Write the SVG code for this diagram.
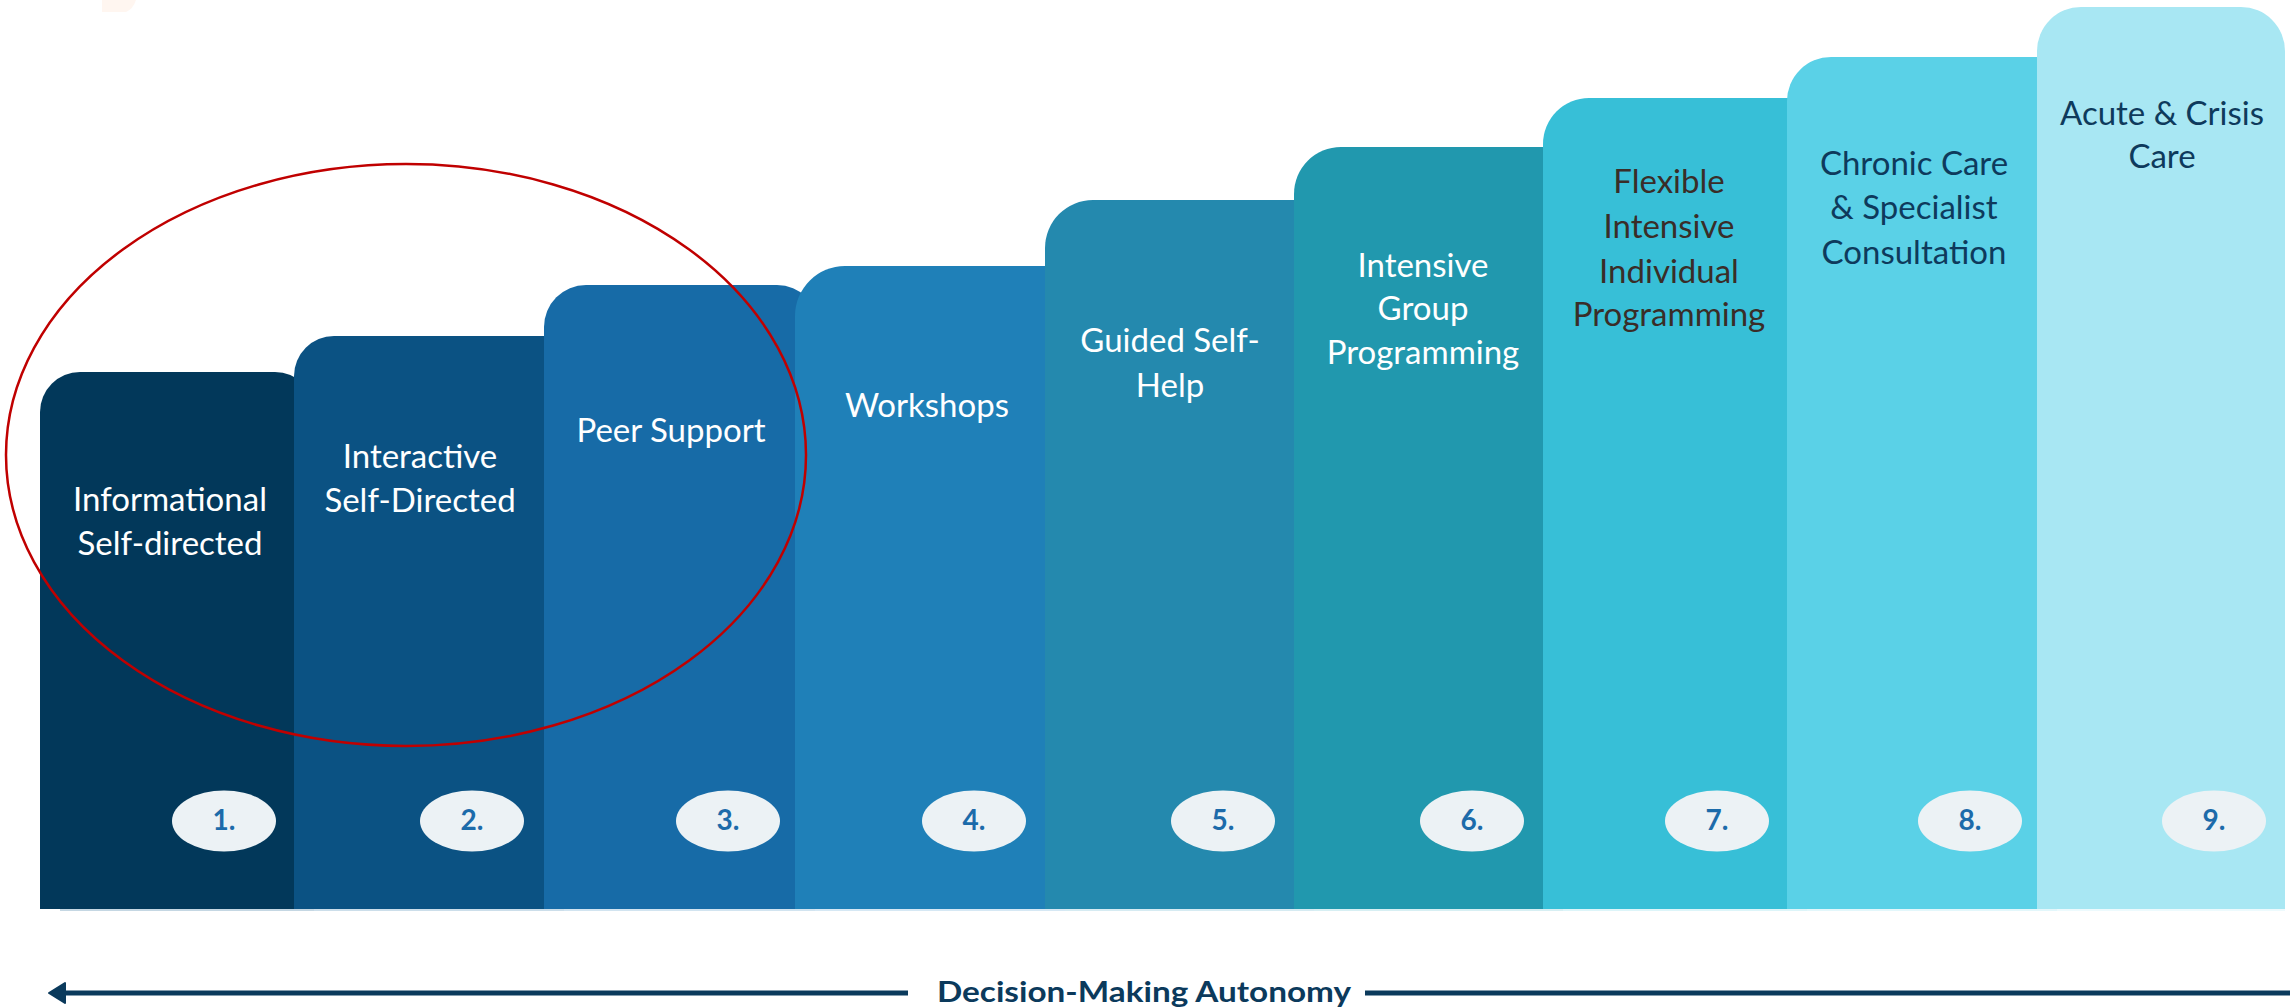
<svg xmlns="http://www.w3.org/2000/svg" width="2293" height="1008" viewBox="0 0 2293 1008">
  <defs>
    <style>
      .label { font-family: Lato, "Liberation Sans", sans-serif; font-size: 33px; text-anchor: middle; }
      .light { fill: #ffffff; }
      .brown { fill: #3a2d28; }
      .navy { fill: #0e3a5c; }
      .badge { fill: #ecf2f5; }
      .num { font-family: Lato, "Liberation Sans", sans-serif; font-size: 28px; font-weight: 700; fill: #1c6baa; text-anchor: middle; }
      .axis-line { stroke: #0b3a5c; stroke-width: 5; fill: none; }
      .axis-text { font-family: Lato, "Liberation Sans", sans-serif; font-size: 29px; font-weight: 700; fill: #0b3a5c; }
      .base { opacity: 0.45; }
    </style>
  </defs>

  <rect width="2293" height="1008" fill="#ffffff"/>

  <!-- faint shape at the top-left edge -->
  <path d="M102,0 H136 Q133,9 126,12 H102 Z" fill="#fff6f0"/>

  <!-- each column runs on under the next one, which hides most of its right corner -->

  <!-- step 1 -->
  <g id="step-1">
    <path d="M40,909 V412 A40,40 0 0 1 80,372 H275 A40,40 0 0 1 315,412 V909 Z" fill="#02385a"/>
    <rect class="base" x="60" y="909" width="254" height="2" fill="#7fa6c2"/>
    <text class="label light" x="170" y="511">Informational</text>
    <text class="label light" x="170" y="555">Self-directed</text>
    <ellipse class="badge" cx="224" cy="821" rx="52" ry="30.5"/>
    <text class="num" x="224" y="830">1.</text>
  </g>

  <!-- step 2 -->
  <g id="step-2">
    <path d="M294,909 V376 A40,40 0 0 1 334,336 H544 A40,40 0 0 1 584,376 V909 Z" fill="#0b5283"/>
    <rect class="base" x="314" y="909" width="250" height="2" fill="#8fb5d0"/>
    <text class="label light" x="420" y="468">Interactive</text>
    <text class="label light" x="420" y="512">Self-Directed</text>
    <ellipse class="badge" cx="472" cy="821" rx="52" ry="30.5"/>
    <text class="num" x="472" y="830">2.</text>
  </g>

  <!-- step 3 -->
  <g id="step-3">
    <path d="M544,909 V327 A42,42 0 0 1 586,285 H777 A42,42 0 0 1 819,327 V909 Z" fill="#176ba7"/>
    <rect class="base" x="564" y="909" width="251" height="2" fill="#9cc3de"/>
    <text class="label light" x="671" y="442">Peer Support</text>
    <ellipse class="badge" cx="728" cy="821" rx="52" ry="30.5"/>
    <text class="num" x="728" y="830">3.</text>
  </g>

  <!-- step 4 -->
  <g id="step-4">
    <path d="M795,909 V316 A50,50 0 0 1 845,266 H1045 A50,50 0 0 1 1095,316 V909 Z" fill="#1f80b8"/>
    <rect class="base" x="815" y="909" width="250" height="2" fill="#a3cde6"/>
    <text class="label light" x="927" y="417">Workshops</text>
    <ellipse class="badge" cx="974" cy="821" rx="52" ry="30.5"/>
    <text class="num" x="974" y="830">4.</text>
  </g>

  <!-- step 5 -->
  <g id="step-5">
    <path d="M1045,909 V248 A48,48 0 0 1 1093,200 H1294 A48,48 0 0 1 1342,248 V909 Z" fill="#2489ae"/>
    <rect class="base" x="1065" y="909" width="249" height="2" fill="#a5d2e2"/>
    <text class="label light" x="1170" y="352">Guided Self-</text>
    <text class="label light" x="1170" y="397">Help</text>
    <ellipse class="badge" cx="1223" cy="821" rx="52" ry="30.5"/>
    <text class="num" x="1223" y="830">5.</text>
  </g>

  <!-- step 6 -->
  <g id="step-6">
    <path d="M1294,909 V194 A47,47 0 0 1 1341,147 H1543 A47,47 0 0 1 1590,194 V909 Z" fill="#2198ae"/>
    <rect class="base" x="1314" y="909" width="249" height="2" fill="#a6dbe4"/>
    <text class="label light" x="1423" y="277">Intensive</text>
    <text class="label light" x="1423" y="320">Group</text>
    <text class="label light" x="1423" y="364">Programming</text>
    <ellipse class="badge" cx="1472" cy="821" rx="52" ry="30.5"/>
    <text class="num" x="1472" y="830">6.</text>
  </g>

  <!-- step 7 -->
  <g id="step-7">
    <path d="M1543,909 V144 A46,46 0 0 1 1589,98 H1787 A46,46 0 0 1 1833,144 V909 Z" fill="#37bfd7"/>
    <rect class="base" x="1563" y="909" width="244" height="2" fill="#b3e8f1"/>
    <text class="label brown" x="1669" y="193">Flexible</text>
    <text class="label brown" x="1669" y="238">Intensive</text>
    <text class="label brown" x="1669" y="283">Individual</text>
    <text class="label brown" x="1669" y="326">Programming</text>
    <ellipse class="badge" cx="1717" cy="821" rx="52" ry="30.5"/>
    <text class="num" x="1717" y="830">7.</text>
  </g>

  <!-- step 8 -->
  <g id="step-8">
    <path d="M1787,909 V101 A44,44 0 0 1 1831,57 H2037 A44,44 0 0 1 2081,101 V909 Z" fill="#5ad1e7"/>
    <rect class="base" x="1807" y="909" width="250" height="2" fill="#c2eef6"/>
    <text class="label navy" x="1914" y="175">Chronic Care</text>
    <text class="label navy" x="1914" y="219">&amp; Specialist</text>
    <text class="label navy" x="1914" y="264">Consultation</text>
    <ellipse class="badge" cx="1970" cy="821" rx="52" ry="30.5"/>
    <text class="num" x="1970" y="830">8.</text>
  </g>

  <!-- step 9 -->
  <g id="step-9">
    <path d="M2037,909 V51 A44,44 0 0 1 2081,7 H2241 A44,44 0 0 1 2285,51 V909 Z" fill="#a8e7f3"/>
    <rect class="base" x="2057" y="909" width="228" height="2" fill="#d6f4fa"/>
    <text class="label navy" x="2162" y="125">Acute &amp; Crisis</text>
    <text class="label navy" x="2162" y="168">Care</text>
    <ellipse class="badge" cx="2214" cy="821" rx="52" ry="30.5"/>
    <text class="num" x="2214" y="830">9.</text>
  </g>

  <!-- highlight ring round the first three steps -->
  <ellipse id="highlight" cx="406" cy="455" rx="400" ry="291" fill="none" stroke="#c00000" stroke-width="2.5"/>

  <!-- autonomy axis -->
  <g id="connectors">
    <line class="axis-line" x1="62" y1="993" x2="908" y2="993"/>
    <polygon points="49,993 65,983 65,1003" fill="#0b3a5c" stroke="#0b3a5c" stroke-width="2" stroke-linejoin="round"/>
    <line class="axis-line" x1="1365" y1="993" x2="2290" y2="993"/>
    <text class="axis-text" x="937" y="1002" textLength="414" lengthAdjust="spacingAndGlyphs">Decision-Making Autonomy</text>
  </g>
</svg>
